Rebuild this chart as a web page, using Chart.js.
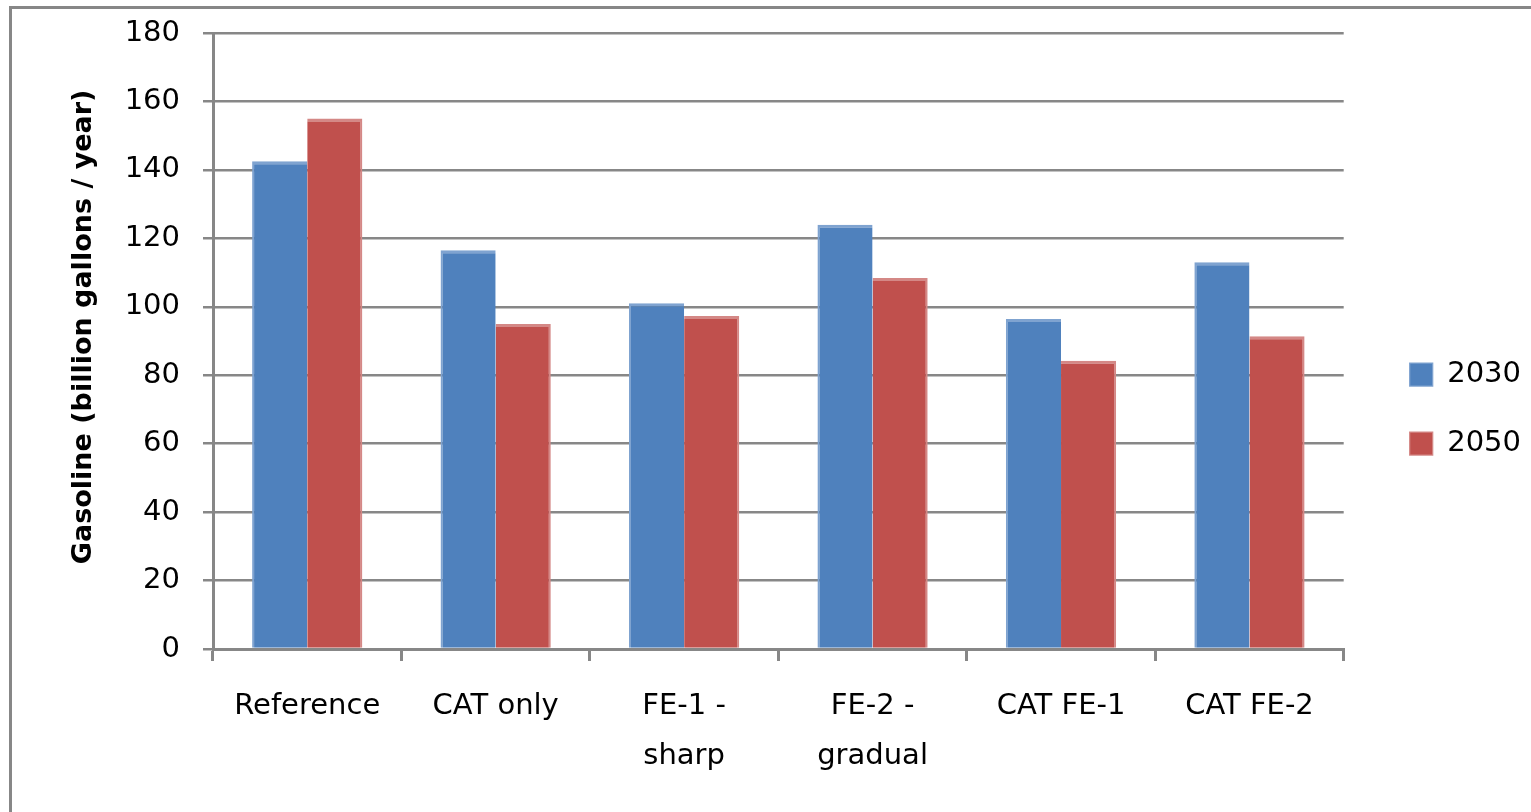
<!DOCTYPE html>
<html>
<head>
<meta charset="utf-8">
<title>Gasoline use by scenario</title>
<script src="https://cdn.jsdelivr.net/npm/chart.js@4"></script>
<style>
    html, body { margin: 0; padding: 0; background: #fff; overflow: hidden; }
    canvas { display: block; }
</style>
</head>
<body>
<canvas id="myChart" width="1531" height="812"></canvas>
<script>
const categories = ['Reference', 'CAT only', ['FE-1 -', 'sharp'], ['FE-2 -', 'gradual'], 'CAT FE-1', 'CAT FE-2'];
const seriesNames = ['2030', '2050'];
const values2030 = [142.5, 116.5, 101, 124, 96.4, 113];
const values2050 = [155, 95, 97.3, 108.4, 84.2, 91.4];
const yTicks = [0, 20, 40, 60, 80, 100, 120, 140, 160, 180];

const gray = '#878787';
const font = { family: 'DejaVu Sans', size: 29 };

// outer frame (only top and left edges are visible in the original)
const framePlugin = {
    id: 'frame',
    beforeDraw(chart) {
        const ctx = chart.ctx;
        ctx.save();
        ctx.strokeStyle = gray;
        ctx.lineWidth = 3;
        ctx.beginPath();
        ctx.moveTo(10.5, 812);
        ctx.lineTo(10.5, 7.5);
        ctx.lineTo(1531, 7.5);
        ctx.stroke();
        ctx.restore();
    }
};

const ctx = document.getElementById('myChart').getContext('2d');
new Chart(ctx, {
    type: 'bar',
    data: {
        labels: categories,
        datasets: [{
            label: seriesNames[0],
            data: values2030,
            backgroundColor: '#4F81BD',
            borderColor: '#7FA3D0',
            borderWidth: { top: 3, left: 2, right: 0, bottom: 0 },
            borderSkipped: false
        }, {
            label: seriesNames[1],
            data: values2050,
            backgroundColor: '#C0504D',
            borderColor: '#D48886',
            borderWidth: { top: 3, left: 0, right: 2, bottom: 0 },
            borderSkipped: false
        }]
    },
    options: {
        responsive: false,
        animation: false,
        layout: {
            padding: { left: 10, top: 33, right: 0, bottom: 27 }
        },
        datasets: {
            bar: { barPercentage: 1, categoryPercentage: 0.585 }
        },
        scales: {
            x: {
                grid: {
                    offset: true,
                    drawOnChartArea: false,
                    drawTicks: true,
                    tickLength: 12,
                    color: gray,
                    lineWidth: 3
                },
                border: { display: true, color: gray, width: 3 },
                ticks: {
                    color: '#000',
                    font: { family: font.family, size: font.size, lineHeight: 50 / 29 },
                    padding: 20,
                    maxRotation: 0,
                    autoSkip: false
                },
                afterFit(scale) { scale.height = 136; }
            },
            y: {
                min: 0,
                max: 180,
                afterBuildTicks(scale) { scale.ticks = yTicks.map(v => ({ value: v })); },
                grid: {
                    color: gray,
                    lineWidth: 2.5,
                    tickLength: 10,
                    drawTicks: true
                },
                border: { display: true, color: gray, width: 3 },
                ticks: {
                    color: '#000',
                    font: font,
                    padding: 23
                },
                title: {
                    display: true,
                    // leading spaces nudge the rotated text upward like the original
                    text: '   Gasoline (billion gallons / year)',
                    color: '#000',
                    font: { family: 'DejaVu Sans', size: 27, weight: 'bold' },
                    padding: { top: 58, bottom: 0 }
                },
                afterFit(scale) {
                    scale.width = 203;
                    scale.paddingTop = 0;
                    scale.paddingBottom = 0;
                }
            },
            pad: {
                type: 'linear',
                position: 'right',
                display: true,
                grid: { display: false },
                border: { display: false },
                ticks: { display: false },
                afterFit(scale) { scale.width = 26; }
            }
        },
        plugins: {
            legend: {
                position: 'right',
                labels: {
                    color: '#000',
                    font: font,
                    boxWidth: 23,
                    boxHeight: 23,
                    padding: 40
                }
            },
            title: { display: false },
            tooltip: { enabled: false }
        }
    },
    plugins: [framePlugin]
});
</script>
</body>
</html>
